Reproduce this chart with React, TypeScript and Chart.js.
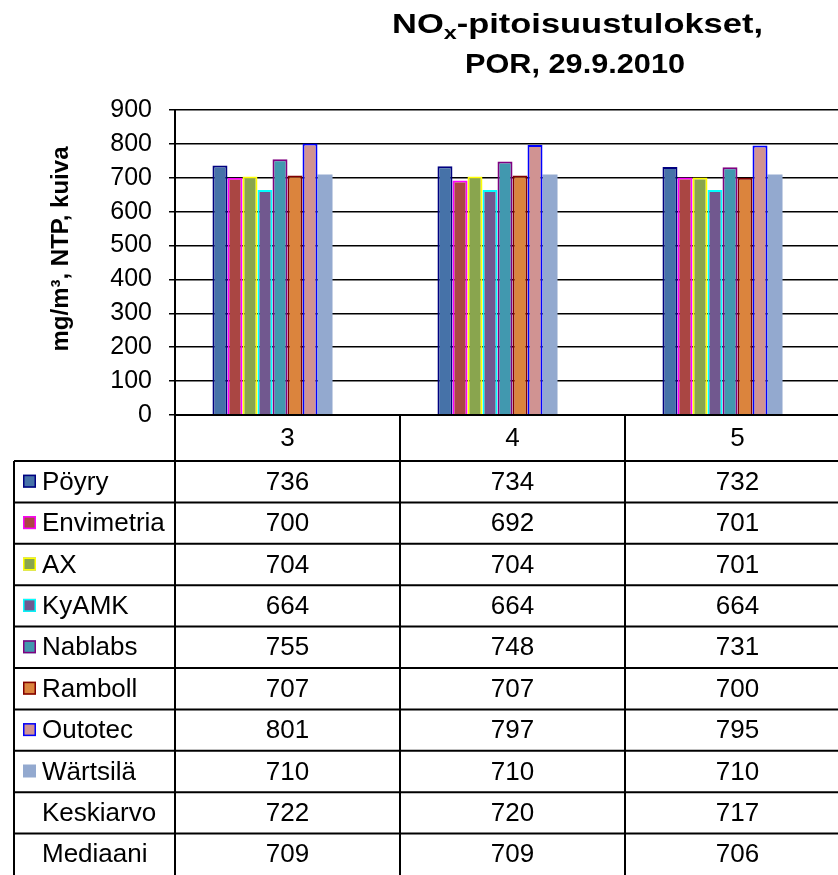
import React, { useEffect, useRef } from 'react';
import { Chart, registerables } from 'chart.js';
Chart.register(...registerables);

const categories = ['3', '4', '5'];
const seriesNames = ['Pöyry', 'Envimetria', 'AX', 'KyAMK', 'Nablabs', 'Ramboll', 'Outotec', 'Wärtsilä', 'Keskiarvo', 'Mediaani'];
const poyry = [736, 734, 732];
const envimetria = [700, 692, 701];
const ax = [704, 704, 701];
const kyamk = [664, 664, 664];
const nablabs = [755, 748, 731];
const ramboll = [707, 707, 700];
const outotec = [801, 797, 795];
const wartsila = [710, 710, 710];
const keskiarvo = [722, 720, 717];
const mediaani = [709, 709, 706];
const seriesValues = [poyry, envimetria, ax, kyamk, nablabs, ramboll, outotec, wartsila, keskiarvo, mediaani];
const fillColors = ['#4672A8', '#AA4643', '#89A54E', '#71588F', '#4198AF', '#DB843D', '#D09392', '#93A9CF', 'rgba(0,0,0,0)', 'rgba(0,0,0,0)'];
const borderColors = ['#000080', '#FF00FF', '#FFFF00', '#00FFFF', '#800080', '#800000', '#0000FF', '#93A9CF', 'rgba(0,0,0,0)', 'rgba(0,0,0,0)'];
const borderWidths = [2, 2, 2, 2, 2, 2, 2, 0, 0, 0];
const yMin = 0;
const yMax = 900;
const yStep = 100;
const titleLine1a = 'NO';
const titleSub = 'x';
const titleLine1b = '-pitoisuustulokset,';
const titleLine2 = 'POR, 29.9.2010';
const yAxisTitle = 'mg/m³, NTP, kuiva';

const FONT = '"Liberation Sans", Arial, sans-serif';

const tablePlugin = {
  id: 'tablePlugin',
  afterDraw(chart: any) {
    const ctx = chart.ctx as CanvasRenderingContext2D;
    const area = chart.chartArea;
    const n = categories.length;
    const catW = (area.right - area.left) / n;
    const headerTop = area.bottom;
    const headerBottom = headerTop + 46;
    const rowH = 41.4;
    const labelLeft = 14;
    const tableBottom = headerBottom + rowH * seriesNames.length + 4;

    ctx.save();
    ctx.strokeStyle = '#000';
    ctx.lineWidth = 2;
    ctx.beginPath();
    ctx.moveTo(area.left, headerTop);
    ctx.lineTo(area.right, headerTop);
    ctx.stroke();
    for (let i = 0; i <= n; i++) {
      const x = area.left + i * catW;
      ctx.beginPath();
      ctx.moveTo(x, headerTop);
      ctx.lineTo(x, tableBottom);
      ctx.stroke();
    }
    ctx.beginPath();
    ctx.moveTo(labelLeft, headerBottom);
    ctx.lineTo(labelLeft, tableBottom);
    ctx.stroke();
    for (let k = 0; k < seriesNames.length; k++) {
      const y = headerBottom + k * rowH;
      ctx.beginPath();
      ctx.moveTo(labelLeft, y);
      ctx.lineTo(area.right, y);
      ctx.stroke();
    }
    ctx.fillStyle = '#000';
    ctx.font = `26px ${FONT}`;
    ctx.textAlign = 'center';
    ctx.textBaseline = 'middle';
    for (let i = 0; i < n; i++) {
      ctx.fillText(categories[i], area.left + (i + 0.5) * catW, (headerTop + headerBottom) / 2 + 1);
    }
    for (let k = 0; k < seriesNames.length; k++) {
      const cy = headerBottom + (k + 0.5) * rowH + 1;
      if (k < 8) {
        ctx.fillStyle = fillColors[k];
        ctx.fillRect(23, cy - 8, 13, 13);
        if (borderWidths[k] > 0) {
          ctx.strokeStyle = borderColors[k];
          ctx.lineWidth = 1.5;
          ctx.strokeRect(23.75, cy - 7.25, 11.5, 11.5);
        }
      }
      ctx.fillStyle = '#000';
      ctx.textAlign = 'left';
      ctx.fillText(seriesNames[k], 42, cy);
      ctx.textAlign = 'center';
      for (let i = 0; i < n; i++) {
        ctx.fillText(String(seriesValues[k][i]), area.left + (i + 0.5) * catW, cy);
      }
    }

    ctx.save();
    ctx.translate(61, 249);
    ctx.rotate(-Math.PI / 2);
    ctx.font = `bold 24px ${FONT}`;
    ctx.textAlign = 'center';
    ctx.textBaseline = 'middle';
    ctx.fillStyle = '#000';
    ctx.fillText(yAxisTitle, 0, 0);
    ctx.restore();

    ctx.fillStyle = '#000';
    ctx.textAlign = 'left';
    ctx.textBaseline = 'alphabetic';
    const big = `bold 28px ${FONT}`;
    const small = `bold 19px ${FONT}`;
    ctx.font = big;
    const wA = ctx.measureText(titleLine1a).width;
    const wB = ctx.measureText(titleLine1b).width;
    ctx.font = small;
    const wS = ctx.measureText(titleSub).width;
    const total1 = wA + wS + wB;
    const sx1 = (763 - 392) / total1;
    ctx.save();
    ctx.translate(392, 33);
    ctx.scale(sx1, 1);
    ctx.font = big;
    ctx.fillText(titleLine1a, 0, 0);
    ctx.font = small;
    ctx.fillText(titleSub, wA, 6);
    ctx.font = big;
    ctx.fillText(titleLine1b, wA + wS, 0);
    ctx.restore();

    ctx.font = big;
    const w2 = ctx.measureText(titleLine2).width;
    const sx2 = (685 - 465) / w2;
    ctx.save();
    ctx.translate(465, 73);
    ctx.scale(sx2, 1);
    ctx.fillText(titleLine2, 0, 0);
    ctx.restore();

    ctx.restore();
  },
};

export default function App() {
  const canvasRef = useRef<HTMLCanvasElement | null>(null);

  useEffect(() => {
    const canvas = canvasRef.current;
    if (!canvas) return;
    const chart = new Chart(canvas, {
      type: 'bar',
      data: {
        labels: categories,
        datasets: seriesNames.map((name, i) => ({
          label: name,
          data: seriesValues[i],
          backgroundColor: fillColors[i],
          borderColor: borderColors[i],
          borderWidth: borderWidths[i],
          borderSkipped: 'bottom',
          categoryPercentage: 0.667,
          barPercentage: 1,
        })),
      },
      options: {
        responsive: false,
        animation: false,
        layout: { padding: { top: 110, bottom: 460, left: 0, right: 0 } },
        plugins: {
          legend: { display: false },
          tooltip: { enabled: false },
          title: { display: false },
        },
        scales: {
          x: { display: false, offset: true },
          y: {
            min: yMin,
            max: yMax,
            ticks: {
              stepSize: yStep,
              font: { family: FONT, size: 25 },
              color: '#000',
              padding: 17,
            },
            grid: { color: '#000', lineWidth: 1.5, tickLength: 6, drawTicks: true },
            border: { color: '#000', width: 2 },
            afterFit: (s: any) => {
              s.width = 175;
            },
          },
        },
      },
      plugins: [tablePlugin],
    } as any);
    return () => chart.destroy();
  }, []);

  return (
    <div style={{ position: 'absolute', left: 0, top: 0, width: 838, height: 875, overflow: 'hidden', background: '#fff' }}>
      <canvas ref={canvasRef} width={850} height={875} style={{ width: 850, height: 875, display: 'block' }} />
    </div>
  );
}
